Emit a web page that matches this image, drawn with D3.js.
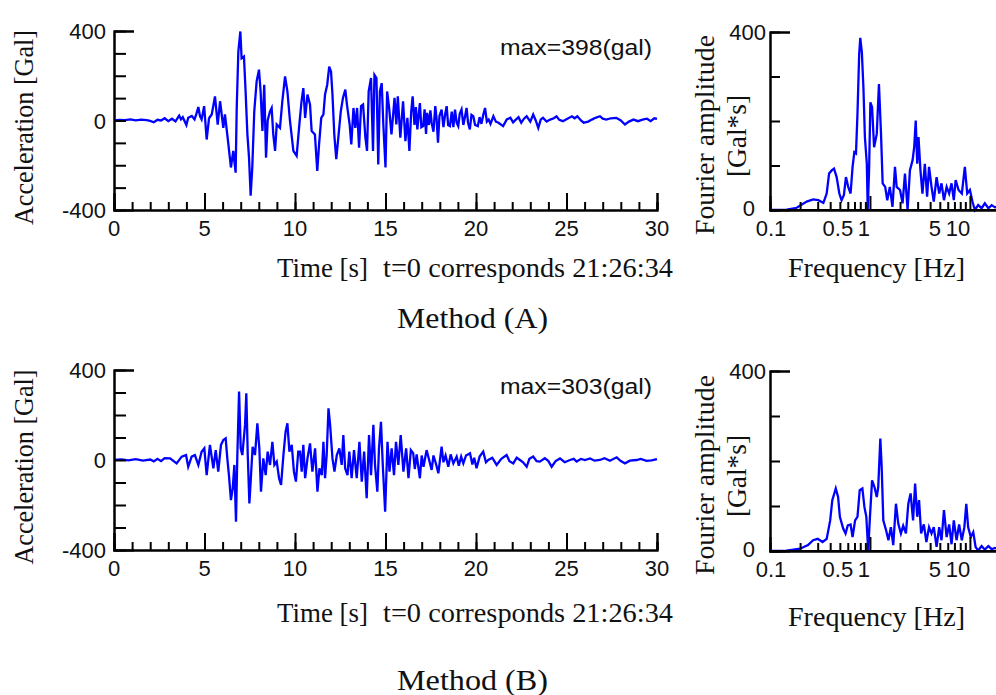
<!DOCTYPE html>
<html>
<head>
<meta charset="utf-8">
<script src="https://cdn.jsdelivr.net/npm/d3@7"></script>
<style>
  body { margin: 0; background: #fff; }
  svg { display: block; }
  .num { font-family: "Liberation Sans", Arial, sans-serif; font-size: 22px; fill: #111; }
  .ser { font-family: "Liberation Serif", "Times New Roman", serif; font-size: 27px; fill: #111; }
</style>
</head>
<body>
<div id="chart"></div>
<script>
// acceleration record, Method (A): time [s] / acceleration [gal]
const timeA = [0,0.3,0.6,0.9,1.2,1.5,1.8,2.0,2.2,2.4,2.6,2.8,3.0,3.2,3.4,3.6,3.7,3.8,4.0,4.1,4.3,4.45,4.55,4.66,4.75,4.84,4.98,5.12,5.25,5.40,5.58,5.73,5.86,6.04,6.13,6.32,6.46,6.59,6.72,6.78,6.87,6.98,7.05,7.18,7.27,7.37,7.46,7.55,7.64,7.75,7.88,8.01,8.1,8.2,8.3,8.4,8.49,8.62,8.71,8.8,8.9,8.99,9.17,9.3,9.45,9.58,9.72,9.91,10.09,10.24,10.36,10.46,10.56,10.69,10.83,10.92,11.1,11.23,11.33,11.45,11.57,11.66,11.78,11.89,11.99,12.07,12.17,12.28,12.41,12.53,12.65,12.78,12.87,13.02,13.11,13.23,13.33,13.43,13.54,13.65,13.76,13.89,13.98,14.07,14.2,14.31,14.39,14.5,14.6,14.69,14.79,14.88,15.0,15.09,15.2,15.33,15.5,15.6,15.68,15.82,15.97,16.1,16.21,16.32,16.42,16.5,16.6,16.68,16.76,16.84,16.9,16.98,17.08,17.16,17.24,17.3,17.4,17.48,17.55,17.65,17.75,17.82,17.9,17.98,18.1,18.2,18.3,18.38,18.46,18.56,18.66,18.75,18.84,18.93,19.02,19.1,19.2,19.3,19.4,19.48,19.56,19.66,19.75,19.85,19.95,20.1,20.2,20.3,20.4,20.5,20.6,20.7,20.8,20.96,21.1,21.24,21.5,21.7,21.9,22.05,22.2,22.35,22.5,22.65,22.8,23.0,23.16,23.3,23.44,23.58,23.7,23.9,24.1,24.3,24.45,24.6,24.8,25.05,25.3,25.45,25.6,25.8,25.95,26.2,26.4,26.6,26.85,27.0,27.2,27.45,27.75,28.0,28.23,28.45,28.7,28.95,29.2,29.45,29.65,29.85,30];
const accA = [0,3,2,5,1,4,2,-2,-8,3,0,10,-3,8,-4,22,5,15,-20,12,20,5,30,60,20,5,64,-85,10,27,108,-18,86,-33,27,-107,-210,-136,-233,56,308,398,278,286,130,-62,-166,-336,-210,41,175,227,130,-47,160,-166,0,41,56,-62,-136,-18,-33,86,197,130,0,-136,-158,-18,86,145,12,116,71,-47,-62,-225,-107,12,27,116,160,241,219,116,-62,-173,-62,41,101,138,71,-18,-107,56,-33,56,-121,64,71,-77,-136,130,190,-136,204,190,-196,130,167,-18,-210,130,56,-62,101,-18,108,-77,86,-92,12,-136,40,108,-20,60,-40,30,78,-30,-25,50,-60,34,-20,45,-10,-50,64,10,-99,20,49,-30,30,64,-20,-25,40,-30,49,-10,-25,30,49,-20,20,56,-10,-40,25,19,-20,-25,15,-15,25,56,-5,4,-15,19,-5,-10,-25,5,12,-8,4,15,-10,8,19,-5,27,0,-33,5,12,-5,4,10,19,3,-3,8,19,10,19,0,-10,-5,4,12,19,8,4,10,12,0,-18,-5,4,-3,4,8,-3,10,7];

// acceleration record, Method (B)
const timeB = [0,0.4,0.8,1.2,1.6,2.0,2.2,2.4,2.6,2.8,3.1,3.46,3.74,3.98,4.1,4.29,4.47,4.66,4.84,4.99,5.12,5.3,5.49,5.62,5.76,5.91,6.04,6.17,6.26,6.35,6.46,6.56,6.65,6.74,6.81,6.91,7.0,7.09,7.24,7.31,7.39,7.48,7.57,7.66,7.79,7.92,8.03,8.12,8.25,8.38,8.49,8.62,8.75,8.86,8.99,9.12,9.23,9.36,9.48,9.58,9.69,9.82,9.94,10.05,10.18,10.28,10.37,10.46,10.56,10.69,10.83,10.96,11.11,11.24,11.35,11.48,11.57,11.66,11.75,11.85,11.94,12.07,12.18,12.31,12.45,12.58,12.67,12.77,12.9,13.0,13.13,13.26,13.41,13.56,13.69,13.82,13.96,14.09,14.2,14.33,14.42,14.55,14.64,14.75,14.85,14.98,15.11,15.22,15.34,15.47,15.58,15.71,15.84,15.99,16.14,16.27,16.4,16.53,16.62,16.72,16.9,17.0,17.1,17.27,17.38,17.55,17.65,17.8,17.92,18.1,18.2,18.32,18.47,18.6,18.75,18.93,19.05,19.18,19.3,19.45,19.67,19.8,19.9,20.03,20.2,20.4,20.55,20.68,20.9,21.14,21.4,21.69,21.85,22.06,22.25,22.43,22.6,22.8,22.95,23.16,23.35,23.53,23.8,24.0,24.18,24.4,24.64,24.9,25.19,25.4,25.56,25.8,26.02,26.3,26.55,26.85,27.1,27.4,27.77,28.0,28.23,28.5,28.87,29.1,29.42,29.7,30];
const accB = [0,3,-2,4,-3,2,-6,5,-5,8,7,-15,15,22,-30,15,22,-22,37,52,-67,67,-37,44,-52,67,89,96,7,-67,-178,-126,-22,-274,7,304,52,22,156,296,22,-193,-67,59,22,163,52,-141,7,-67,37,-22,81,-22,-7,-81,-111,22,126,163,37,67,-52,-96,37,37,-52,67,-81,7,74,-52,52,-141,-37,-67,81,-81,22,230,156,7,-52,22,52,-22,111,-37,-67,37,-81,44,-81,81,-96,37,-170,111,-67,156,-22,-141,52,170,-22,-230,81,-52,52,-67,81,-22,111,-52,52,-81,44,30,-40,25,-81,20,-30,44,10,-44,20,-20,-59,59,-10,20,-30,25,-15,15,-25,15,-15,20,30,-20,10,-37,15,37,-10,0,10,-22,5,22,-5,-15,10,0,-10,-30,5,15,-5,-7,8,-5,-30,-5,7,-10,0,5,-7,5,0,7,-3,0,8,-3,12,-5,-15,-3,0,5,-4,-2,4];

// Fourier amplitude spectra: frequency [Hz] / amplitude [Gal*s]
const freqA = [0.1,0.147,0.185,0.233,0.27,0.304,0.342,0.369,0.39,0.414,0.437,0.464,0.494,0.52,0.549,0.575,0.606,0.64,0.67,0.698,0.725,0.75,0.78,0.8,0.83,0.86,0.89,0.93,0.95,0.98,1.01,1.05,1.1,1.17,1.23,1.29,1.34,1.42,1.49,1.58,1.68,1.78,1.85,2.0,2.12,2.24,2.38,2.51,2.67,2.77,2.87,2.97,3.06,3.2,3.35,3.54,3.73,3.9,4.13,4.35,4.64,4.93,5.2,5.5,5.85,6.2,6.55,6.9,7.2,7.7,8.3,8.9,9.4,10,10.6,11.2,12.1,13.1,14.1,15.3,16.5,17.8,19];
const ampA = [0,1,5,19,24,22,16,37,82,89,93,74,37,22,34,74,52,37,97,130,127,216,350,387,354,276,164,104,0,89,242,231,141,171,283,171,60,52,22,52,7,97,52,45,15,82,0,89,112,141,201,104,164,89,37,104,30,97,52,19,74,37,60,22,52,37,60,22,67,45,37,97,37,45,19,0,11,4,15,4,11,6,8];
const freqB = [0.1,0.14,0.147,0.2,0.24,0.27,0.3,0.336,0.369,0.4,0.42,0.455,0.48,0.5,0.54,0.57,0.6,0.64,0.67,0.71,0.75,0.79,0.84,0.88,0.92,0.96,1.0,1.05,1.11,1.17,1.21,1.27,1.31,1.36,1.45,1.53,1.62,1.71,1.82,1.92,2.04,2.15,2.29,2.42,2.55,2.7,2.83,2.97,3.1,3.25,3.46,3.67,3.9,4.13,4.35,4.64,4.93,5.2,5.5,5.85,6.2,6.55,6.9,7.35,7.8,8.3,8.8,9.2,9.6,10.2,10.8,11.4,12.1,13.1,14.1,15.3,16.5,17.8,19];
const ampB = [0,0,1,5,13,24,27,20,27,68,113,139,120,76,50,39,57,59,31,68,76,135,139,98,76,0,76,157,142,120,142,250,187,68,46,24,53,13,105,61,39,56,39,105,128,68,150,76,113,39,59,20,53,39,53,9,53,24,91,31,59,15,68,24,59,24,53,105,53,31,42,9,1,11,3,11,4,7,5];

const accTicksMajor = [0, 5, 10, 15, 20, 25, 30];
const accTicksMinor = d3.range(0, 31);
const accYTicks = [-300, -200, -100, 0, 100, 200, 300];
const accYLabels = [400, 0, -400];
const freqLabels = [0.1, 0.5, 1, 5, 10];
const freqLabelNudge = [1, -2, -6, -5, -12];   // labels sit a bit left of their ticks in the original
const freqMinor = [0.2,0.3,0.4,0.5,0.6,0.7,0.8,0.9,2,3,4,5,6,7,8,9];
const freqMajor = [1, 10];
const ampYTicks = [100, 200, 300];

const panels = [
  { time: timeA, acc: accA, freq: freqA, amp: ampA, max: "max=398(gal)", method: "Method (A)", top: 31, bot: 210, fTop: 32, fBot: 210, xlab: 277, flab: 277, mlab: 328 },
  { time: timeB, acc: accB, freq: freqB, amp: ampB, max: "max=303(gal)", method: "Method (B)", top: 370, bot: 550, fTop: 371, fBot: 551, xlab: 622, flab: 626, mlab: 690 }
];

const svg = d3.select("#chart").append("svg").attr("width", 996).attr("height", 695);
const blue = "#0000ff";

panels.forEach(p => {
  // ---- time history ----
  const x = d3.scaleLinear().domain([0, 30]).range([114, 657]);
  const y = d3.scaleLinear().domain([-400, 400]).range([p.bot, p.top]);
  const g = svg.append("g");

  const pts = p.time.map((t, i) => [t, p.acc[i]]);
  g.append("path")
    .datum(pts)
    .attr("fill", "none")
    .attr("stroke", blue)
    .attr("stroke-width", 2.3)
    .attr("d", d3.line().x(d => x(d[0])).y(d => y(d[1])));

  g.append("g").attr("transform", `translate(0,${p.bot})`)
    .call(d3.axisBottom(x).tickValues(accTicksMinor).tickSize(-8).tickFormat(""));
  g.append("g").attr("transform", `translate(0,${p.bot})`)
    .call(d3.axisBottom(x).tickValues(accTicksMajor).tickSize(-17).tickFormat(""));
  g.append("g").attr("transform", `translate(114,0)`)
    .call(d3.axisLeft(y).tickValues(accYTicks).tickSize(-12).tickFormat(""));
  g.append("g").attr("transform", `translate(114,0)`)
    .call(d3.axisLeft(y).tickValues([400]).tickSize(-20).tickFormat(""));

  g.selectAll(".xl").data(accTicksMajor).enter().append("text")
    .attr("class", "num").attr("x", d => x(d)).attr("y", p.bot + 26)
    .attr("text-anchor", "middle").text(d => d);
  g.selectAll(".yl").data(accYLabels).enter().append("text")
    .attr("class", "num").attr("x", 106).attr("y", d => y(d) + 8)
    .attr("text-anchor", "end").text(d => d);

  g.append("text").attr("class", "num").attr("x", 500).attr("y", p.top + 24)
    .attr("textLength", 152).attr("lengthAdjust", "spacingAndGlyphs").text(p.max);
  g.append("text").attr("class", "ser").attr("transform", `translate(33,${(p.top + p.bot) / 2 + 7}) rotate(-90)`)
    .attr("text-anchor", "middle").attr("textLength", 195).attr("lengthAdjust", "spacingAndGlyphs")
    .text("Acceleration [Gal]");
  g.append("text").attr("class", "ser").attr("x", 277).attr("y", p.xlab)
    .attr("textLength", 91).attr("lengthAdjust", "spacingAndGlyphs").text("Time [s]");
  g.append("text").attr("class", "ser").attr("x", 383).attr("y", p.xlab)
    .attr("textLength", 290).attr("lengthAdjust", "spacingAndGlyphs").text("t=0 corresponds 21:26:34");
  g.append("text").attr("class", "ser").style("font-size", "30px").attr("x", 397).attr("y", p.mlab)
    .attr("textLength", 151).attr("lengthAdjust", "spacingAndGlyphs").text(p.method);

  // ---- Fourier spectrum ----
  const fx = d3.scaleLog().domain([0.1, 20]).range([770, 1000]);
  const fy = d3.scaleLinear().domain([0, 400]).range([p.fBot, p.fTop]);
  const fg = svg.append("g");

  fg.append("path")
    .datum(p.freq.map((f, i) => [f, p.amp[i]]))
    .attr("fill", "none")
    .attr("stroke", blue)
    .attr("stroke-width", 2.3)
    .attr("d", d3.line().x(d => fx(d[0])).y(d => fy(d[1])));

  fg.append("g").attr("transform", `translate(0,${p.fBot})`)
    .call(d3.axisBottom(fx).tickValues(freqMinor).tickSize(-8).tickFormat(""));
  fg.append("g").attr("transform", `translate(0,${p.fBot})`)
    .call(d3.axisBottom(fx).tickValues(freqMajor).tickSize(-14).tickFormat(""));
  fg.append("line").attr("x1", 770).attr("x2", 996).attr("y1", p.fBot).attr("y2", p.fBot)
    .attr("stroke", "#000").attr("stroke-width", 2);
  fg.append("g").attr("transform", `translate(770,0)`)
    .call(d3.axisLeft(fy).tickValues(ampYTicks).tickSize(-10).tickFormat(""));
  fg.append("g").attr("transform", `translate(770,0)`)
    .call(d3.axisLeft(fy).tickValues([400]).tickSize(-20).tickFormat(""));

  fg.selectAll(".fl").data(freqLabels).enter().append("text")
    .attr("class", "num").attr("x", (d, i) => fx(d) + freqLabelNudge[i]).attr("y", p.fBot + 26)
    .attr("text-anchor", "middle").text(d => d);
  fg.append("text").attr("class", "num").attr("x", 766).attr("y", fy(400) + 8)
    .attr("text-anchor", "end").text(400);
  fg.append("text").attr("class", "num").attr("x", 755).attr("y", fy(0) + 6)
    .attr("text-anchor", "end").text(0);

  fg.append("text").attr("class", "ser").attr("transform", `translate(714,${(p.fTop + p.fBot) / 2 + 14}) rotate(-90)`)
    .attr("text-anchor", "middle").attr("textLength", 200).attr("lengthAdjust", "spacingAndGlyphs")
    .text("Fourier amplitude");
  fg.append("text").attr("class", "ser").attr("transform", `translate(746,${(p.fTop + p.fBot) / 2 + 15}) rotate(-90)`)
    .attr("text-anchor", "middle").attr("textLength", 82).attr("lengthAdjust", "spacingAndGlyphs")
    .text("[Gal*s]");
  fg.append("text").attr("class", "ser").attr("x", 788).attr("y", p.flab)
    .attr("textLength", 177).attr("lengthAdjust", "spacingAndGlyphs").text("Frequency [Hz]");
});

svg.selectAll(".domain").attr("stroke", "#000").attr("stroke-width", 2);
svg.selectAll(".tick line").attr("stroke", "#000").attr("stroke-width", 2);
</script>
</body>
</html>
